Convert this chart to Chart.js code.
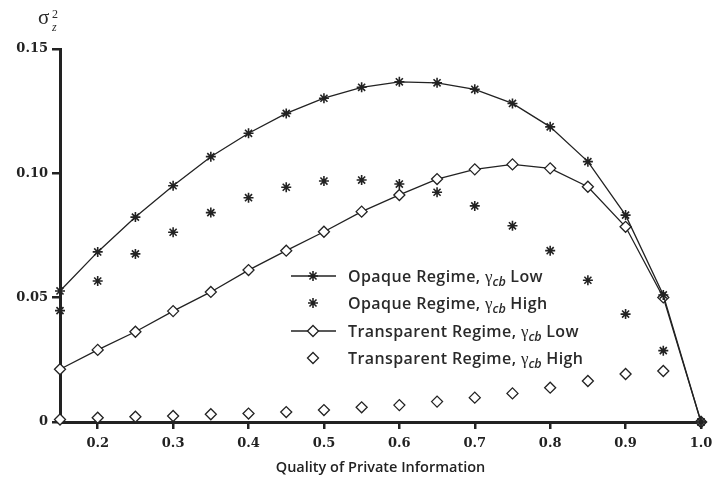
<!DOCTYPE html>
<html>
<head>
<meta charset="utf-8">
<script src="https://cdn.jsdelivr.net/npm/chart.js@4/dist/chart.umd.min.js"></script>
<style>
  html, body { margin: 0; padding: 0; background: #fff; }
  #wrap { position: relative; width: 714px; height: 483px; }
  canvas { position: absolute; left: 0; top: 0; }
  .lg { position: absolute; left: 348px; font-family: "Open Sans", sans-serif; font-weight: 600; font-size: 16px; letter-spacing: 0.4px; color: #2a2a2a; white-space: nowrap; line-height: 18px; }
  .g { font-family: "Liberation Serif", serif; font-weight: 400; font-size: 17px; letter-spacing: 0; }
  .cb { font-family: "Open Sans", sans-serif; font-style: italic; font-weight: 600; font-size: 12.5px; letter-spacing: 0; position: relative; top: 4px; }
  #ytitle { position: absolute; left: 38px; top: 7px; font-family: "Liberation Serif", serif; font-size: 21px; color: #2a2a2a; line-height: 20px; }
  #ytitle .sup { position: absolute; left: 14px; top: -3px; font-size: 12px; }
  #ytitle .sub { position: absolute; left: 14px; top: 10px; font-size: 12px; font-style: italic; }
</style>
</head>
<body>
<div id="wrap">
  <canvas id="c" width="714" height="483"></canvas>
  <div id="ytitle">σ<span class="sup">2</span><span class="sub">z</span></div>
  <div class="lg" style="top:267px">Opaque Regime, <span class="g">γ</span><span class="cb">cb</span> Low</div>
  <div class="lg" style="top:294px">Opaque Regime, <span class="g">γ</span><span class="cb">cb</span> High</div>
  <div class="lg" style="top:322px">Transparent Regime, <span class="g">γ</span><span class="cb">cb</span> Low</div>
  <div class="lg" style="top:349px">Transparent Regime, <span class="g">γ</span><span class="cb">cb</span> High</div>
</div>
<script>
const xValues = [0.15, 0.2, 0.25, 0.3, 0.35, 0.4, 0.45, 0.5, 0.55, 0.6, 0.65, 0.7, 0.75, 0.8, 0.85, 0.9, 0.95, 1.0];
const opaqueLow = [0.0527, 0.0684, 0.0824, 0.0950, 0.1067, 0.1161, 0.1241, 0.1302, 0.1346, 0.1368, 0.1364, 0.1338, 0.1281, 0.1187, 0.1047, 0.0832, 0.0511, 0];
const opaqueHigh = [0.0448, 0.0567, 0.0676, 0.0763, 0.0842, 0.0902, 0.0944, 0.0969, 0.0973, 0.0957, 0.0924, 0.0869, 0.0789, 0.0689, 0.0570, 0.0434, 0.0287, 0];
const transLow = [0.0212, 0.0290, 0.0363, 0.0446, 0.0523, 0.0611, 0.0689, 0.0765, 0.0846, 0.0913, 0.0977, 0.1016, 0.1036, 0.1020, 0.0946, 0.0785, 0.0501, 0];
const transHigh = [0.0010, 0.0017, 0.0021, 0.0024, 0.0031, 0.0034, 0.0040, 0.0048, 0.0059, 0.0068, 0.0082, 0.0098, 0.0115, 0.0138, 0.0165, 0.0193, 0.0205, 0];
const xTicks = [0.2, 0.3, 0.4, 0.5, 0.6, 0.7, 0.8, 0.9, 1.0];
const yTicks = [0, 0.05, 0.10, 0.15];
const yTickLabels = ['0', '0.05', '0.10', '0.15'];
const seriesNames = ['Opaque Regime, γcb Low', 'Opaque Regime, γcb High', 'Transparent Regime, γcb Low', 'Transparent Regime, γcb High'];

const INK = '#222';
function pts(arr) { return xValues.map((x, i) => ({ x: x, y: arr[i] })); }

const datasets = [
  { label: seriesNames[0], data: pts(opaqueLow), showLine: true, pointStyle: 'star', pointRadius: 5, borderWidth: 1.3, pointBorderWidth: 1.6, borderColor: INK, backgroundColor: INK },
  { label: seriesNames[1], data: pts(opaqueHigh), showLine: false, pointStyle: 'star', pointRadius: 5, pointBorderWidth: 1.6, borderColor: INK, backgroundColor: INK },
  { label: seriesNames[2], data: pts(transLow), showLine: true, pointStyle: 'rectRot', pointRadius: 5.5, borderWidth: 1.3, pointBorderWidth: 1.3, borderColor: INK, backgroundColor: '#fff' },
  { label: seriesNames[3], data: pts(transHigh), showLine: false, pointStyle: 'rectRot', pointRadius: 5.5, pointBorderWidth: 1.3, borderColor: INK, backgroundColor: '#fff' }
].map(d => Object.assign({ clip: false, tension: 0, pointHoverRadius: d.pointRadius }, d));

const legendPlugin = {
  id: 'customLegend',
  afterDraw(chart) {
    const ctx = chart.ctx;
    const rows = [276, 303, 331, 358];
    chart.data.datasets.forEach((ds, i) => {
      const y = rows[i];
      ctx.save();
      ctx.strokeStyle = ds.borderColor;
      ctx.fillStyle = ds.backgroundColor;
      if (ds.showLine) {
        ctx.lineWidth = ds.borderWidth;
        ctx.beginPath(); ctx.moveTo(291, y); ctx.lineTo(336, y); ctx.stroke();
      }
      ctx.lineWidth = ds.pointBorderWidth;
      Chart.helpers.drawPoint(ctx, { pointStyle: ds.pointStyle, radius: ds.pointRadius, borderWidth: ds.pointBorderWidth, rotation: 0 }, 313, y);
      ctx.restore();
    });
  }
};

new Chart(document.getElementById('c'), {
  type: 'scatter',
  data: { datasets: datasets },
  plugins: [legendPlugin],
  options: {
    responsive: false,
    animation: false,
    devicePixelRatio: 1,
    layout: { padding: { top: 49, right: 13, left: 0, bottom: 0 } },
    plugins: { legend: { display: false }, tooltip: { enabled: false } },
    scales: {
      x: {
        type: 'linear', min: 0.15, max: 1.0,
        afterBuildTicks(s) { s.ticks = xTicks.map(v => ({ value: v })); },
        afterFit(s) { s.height = 61; s.paddingLeft = 0; s.paddingRight = 0; },
        ticks: { callback: v => v.toFixed(1), font: { family: 'DejaVu Serif', weight: 'bold', size: 13 }, color: INK, padding: 7, maxRotation: 0, autoSkip: false },
        grid: { drawOnChartArea: false, drawTicks: true, tickLength: 7, lineWidth: 2.5, color: INK },
        border: { display: true, width: 3, color: INK },
        title: { display: true, text: 'Quality of Private Information', font: { family: 'Open Sans', weight: '600', size: 14.5 }, color: INK, padding: { top: 0, bottom: 6 } }
      },
      y: {
        type: 'linear', min: 0, max: 0.15,
        afterBuildTicks(s) { s.ticks = yTicks.map(v => ({ value: v })); },
        afterFit(s) { s.width = 60; s.paddingTop = 0; s.paddingBottom = 0; },
        ticks: { callback: (v) => yTickLabels[yTicks.findIndex(t => Math.abs(t - v) < 1e-9)], font: { family: 'DejaVu Serif', weight: 'bold', size: 13 }, color: INK, padding: 4, autoSkip: false },
        grid: { drawOnChartArea: false, drawTicks: true, tickLength: 8, lineWidth: 2.5, color: INK },
        border: { display: true, width: 3, color: INK }
      }
    }
  }
});
</script>
</body>
</html>
